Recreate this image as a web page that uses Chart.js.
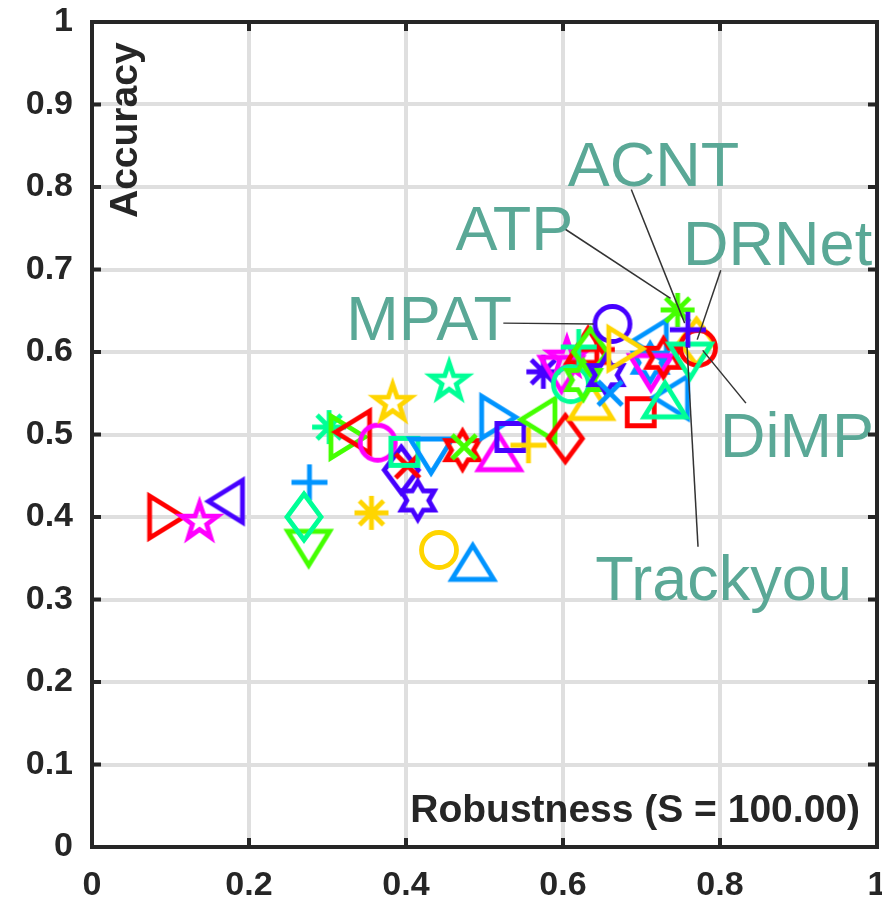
<!DOCTYPE html>
<html>
<head>
<meta charset="utf-8">
<script src="https://cdn.jsdelivr.net/npm/chart.js@4"></script>
<style>
  html, body { margin: 0; padding: 0; background: #fff; overflow: hidden; }
  canvas { display: block; }
</style>
</head>
<body>
<canvas id="arplot" width="882" height="899"></canvas>
<script>
// robustness (x) and accuracy (y) of each tracker
const robustness = [
  0.095, 0.137, 0.170, 0.277, 0.276, 0.270, 0.356, 0.442, 0.485,
  0.302, 0.326, 0.332, 0.364, 0.383, 0.455, 0.394, 0.402, 0.398, 0.415,
  0.432, 0.472, 0.474, 0.519, 0.518, 0.533, 0.556, 0.568, 0.603, 0.575,
  0.598, 0.605, 0.632, 0.643, 0.636, 0.610, 0.620, 0.635, 0.626, 0.655,
  0.660, 0.663, 0.699, 0.710, 0.711, 0.712, 0.728, 0.737, 0.730, 0.680,
  0.770, 0.772, 0.746, 0.762, 0.759
];
const accuracy = [
  0.400, 0.394, 0.419, 0.442, 0.362, 0.400, 0.405, 0.360, 0.345,
  0.509, 0.497, 0.503, 0.490, 0.538, 0.564, 0.457, 0.462, 0.479, 0.420,
  0.474, 0.481, 0.485, 0.478, 0.521, 0.497, 0.487, 0.518, 0.495, 0.576,
  0.573, 0.593, 0.608, 0.603, 0.540, 0.561, 0.606, 0.600, 0.566, 0.572,
  0.550, 0.634, 0.527, 0.613, 0.587, 0.575, 0.593, 0.545, 0.542, 0.604,
  0.612, 0.605, 0.651, 0.589, 0.627
];
// marker per tracker: shape code and colour code
const markerShape = [
  '>', 'p', '<', '+', 'v', 'd', '*', 'o', '^',
  '*', '>', '<', 'o', 'p', 'p', 'd', 'x', 's', 'h',
  'v', 'h', 'x', '^', '>', 's', '+', '<', 'd', '*',
  'v', 'p', '^', '+', '^', 'o', '+', 'd', 'h', 'h',
  'x', 'o', 's', '<', 'h', 'v', 'h', '<', '^', '>',
  'd', 'o', '*', 'v', '+'
];
const markerColor = [
  'R', 'M', 'V', 'B', 'G', 'T', 'Y', 'Y', 'B',
  'T', 'G', 'R', 'M', 'Y', 'T', 'V', 'R', 'T', 'V',
  'B', 'R', 'G', 'M', 'B', 'V', 'Y', 'G', 'R', 'V',
  'M', 'M', 'R', 'R', 'Y', 'T', 'T', 'G', 'G', 'V',
  'B', 'V', 'R', 'B', 'B', 'M', 'R', 'B', 'T', 'Y',
  'Y', 'R', 'G', 'T', 'V'
];

const xTickValues = [0, 0.2, 0.4, 0.6, 0.8, 1];
const xTickLabels = ['0', '0.2', '0.4', '0.6', '0.8', '1'];
const yTickValues = [0, 0.1, 0.2, 0.3, 0.4, 0.5, 0.6, 0.7, 0.8, 0.9, 1];
const yTickLabels = ['0', '0.1', '0.2', '0.3', '0.4', '0.5', '0.6', '0.7', '0.8', '0.9', '1'];

// named trackers: text spot and leader line, in data units
const callouts = [
  { name: 'ACNT',     tx: 0.606, ty: 0.801, x1: 0.687, y1: 0.797, x2: 0.755, y2: 0.635 },
  { name: 'ATP',      tx: 0.463, ty: 0.724, x1: 0.601, y1: 0.750, x2: 0.737, y2: 0.665 },
  { name: 'DRNet',    tx: 0.753, ty: 0.705, x1: 0.801, y1: 0.699, x2: 0.771, y2: 0.615 },
  { name: 'MPAT',     tx: 0.324, ty: 0.615, x1: 0.524, y1: 0.635, x2: 0.639, y2: 0.634 },
  { name: 'DiMP',     tx: 0.800, ty: 0.473, x1: 0.833, y1: 0.538, x2: 0.778, y2: 0.602 },
  { name: 'Trackyou', tx: 0.641, ty: 0.299, x1: 0.772, y1: 0.364, x2: 0.758, y2: 0.606 }
];

const palette = {
  R: '#ff0000', M: '#ff00ff', V: '#4600ff', B: '#0094ff',
  T: '#00ff96', G: '#44ff00', Y: '#ffd500'
};

function poly(g, pts) {
  g.moveTo(pts[0][0], pts[0][1]);
  for (let i = 1; i < pts.length; i++) g.lineTo(pts[i][0], pts[i][1]);
  g.closePath();
}

function starPath(g, n, rOut, rIn) {
  const pts = [];
  for (let i = 0; i < n * 2; i++) {
    const r = i % 2 ? rIn : rOut;
    const a = -Math.PI / 2 + i * Math.PI / n;
    pts.push([r * Math.cos(a), r * Math.sin(a)]);
  }
  poly(g, pts);
}

function spokes(g, r, angles) {
  angles.forEach(a => {
    const dx = Math.cos(a) * r, dy = Math.sin(a) * r;
    g.moveTo(-dx, -dy);
    g.lineTo(dx, dy);
  });
}

function makeMarker(shape, color) {
  const c = document.createElement('canvas');
  c.width = 64;
  c.height = 64;
  const g = c.getContext('2d');
  g.translate(32, 32);
  g.strokeStyle = color;
  g.lineWidth = 4.8;
  g.lineJoin = 'miter';
  g.beginPath();
  switch (shape) {
    case 'o': g.arc(0, 0, 17.5, 0, Math.PI * 2); break;
    case 's': g.rect(-13.5, -13.5, 27, 27); break;
    case 'd': poly(g, [[0, -23], [17, 0], [0, 23], [-17, 0]]); break;
    case '^': poly(g, [[0, -17], [21, 17], [-21, 17]]); break;
    case 'v': poly(g, [[0, 17], [21, -17], [-21, -17]]); break;
    case '>': poly(g, [[17, 0], [-17, -21], [-17, 21]]); break;
    case '<': poly(g, [[-17, 0], [17, -21], [17, 21]]); break;
    case 'p': starPath(g, 5, 19, 7.5); break;
    case 'h': starPath(g, 6, 19, 11); break;
    case '+': spokes(g, 18, [0, Math.PI / 2]); break;
    case 'x': spokes(g, 17, [Math.PI / 4, -Math.PI / 4]); break;
    case '*': spokes(g, 17, [0, Math.PI / 2, Math.PI / 4, -Math.PI / 4]); break;
  }
  g.stroke();
  return c;
}

const points = robustness.map((r, i) => ({ x: r, y: accuracy[i] }));
const markers = markerShape.map((s, i) => makeMarker(s, palette[markerColor[i]]));

const tickFont = { family: "'Liberation Sans', Arial, sans-serif", size: 34, weight: 'bold' };
const ink = '#262626';

// keep the plot box exactly where the layout padding puts it
function pinScale(s, size) {
  if (s.isHorizontal()) s.height = size; else s.width = size;
  s.paddingLeft = 0;
  s.paddingRight = 0;
  s.paddingTop = 0;
  s.paddingBottom = 0;
}

const decorate = {
  id: 'decorate',
  afterDatasetsDraw(chart) {
    const ctx = chart.ctx;
    const a = chart.chartArea;
    const xs = chart.scales.x, ys = chart.scales.y;
    ctx.save();

    // leader lines and names
    ctx.strokeStyle = '#333333';
    ctx.lineWidth = 1.5;
    callouts.forEach(c => {
      ctx.beginPath();
      ctx.moveTo(xs.getPixelForValue(c.x1), ys.getPixelForValue(c.y1));
      ctx.lineTo(xs.getPixelForValue(c.x2), ys.getPixelForValue(c.y2));
      ctx.stroke();
    });
    ctx.fillStyle = 'rgb(90,168,150)';
    ctx.font = "63px 'Liberation Sans', Arial, sans-serif";
    ctx.textAlign = 'left';
    ctx.textBaseline = 'alphabetic';
    callouts.forEach(c => {
      ctx.fillText(c.name, xs.getPixelForValue(c.tx), ys.getPixelForValue(c.ty));
    });

    // axis names sit inside the box
    ctx.fillStyle = ink;
    ctx.font = "bold 39px 'Liberation Sans', Arial, sans-serif";
    ctx.textAlign = 'right';
    ctx.fillText('Robustness (S = 100.00)', a.right - 17, a.bottom - 25);
    ctx.save();
    ctx.translate(a.left + 45, a.top + 196);
    ctx.rotate(-Math.PI / 2);
    ctx.textAlign = 'left';
    ctx.fillText('Accuracy', 0, 0);
    ctx.restore();

    // box and inward ticks
    ctx.strokeStyle = ink;
    ctx.lineWidth = 4;
    ctx.beginPath();
    xTickValues.forEach(v => {
      const px = xs.getPixelForValue(v);
      ctx.moveTo(px, a.bottom); ctx.lineTo(px, a.bottom - 9);
      ctx.moveTo(px, a.top); ctx.lineTo(px, a.top + 9);
    });
    yTickValues.forEach(v => {
      const py = ys.getPixelForValue(v);
      ctx.moveTo(a.left, py); ctx.lineTo(a.left + 9, py);
      ctx.moveTo(a.right, py); ctx.lineTo(a.right - 9, py);
    });
    ctx.stroke();
    ctx.strokeRect(a.left, a.top, a.right - a.left, a.bottom - a.top);
    ctx.restore();
  }
};

new Chart(document.getElementById('arplot'), {
  type: 'scatter',
  data: {
    datasets: [{
      data: points,
      pointStyle: markers,
      pointRadius: 20,
      pointHoverRadius: 20
    }]
  },
  options: {
    responsive: false,
    animation: false,
    events: [],
    layout: { autoPadding: false, padding: { top: 22, right: 5, left: 0, bottom: 0 } },
    plugins: { legend: { display: false }, tooltip: { enabled: false } },
    scales: {
      x: {
        type: 'linear',
        min: 0,
        max: 1,
        afterFit: s => pinScale(s, 52),
        afterBuildTicks: s => { s.ticks = xTickValues.map(v => ({ value: v })); },
        ticks: {
          font: tickFont,
          color: ink,
          padding: 18,
          maxRotation: 0,
          callback: (v, i) => xTickLabels[i]
        },
        grid: { color: '#dfdfdf', lineWidth: 4, drawTicks: false },
        border: { display: false }
      },
      y: {
        type: 'linear',
        min: 0,
        max: 1,
        afterFit: s => pinScale(s, 92),
        afterBuildTicks: s => { s.ticks = yTickValues.map(v => ({ value: v })); },
        ticks: {
          font: tickFont,
          color: ink,
          padding: 19,
          callback: (v, i) => yTickLabels[i]
        },
        grid: { color: '#dfdfdf', lineWidth: 4, drawTicks: false },
        border: { display: false }
      }
    }
  },
  plugins: [decorate]
});
</script>
</body>
</html>
